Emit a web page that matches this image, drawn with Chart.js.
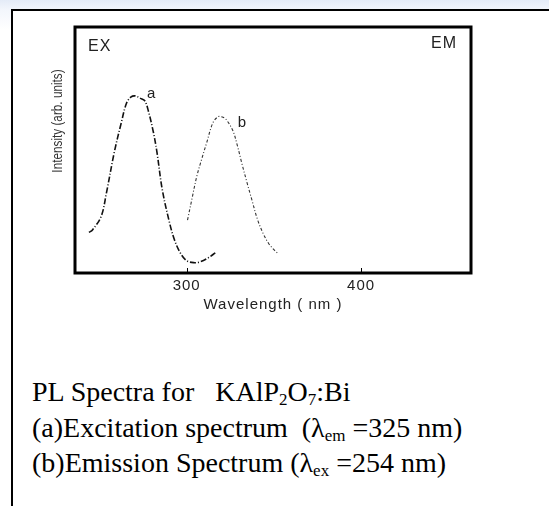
<!DOCTYPE html>
<html>
<head>
<meta charset="utf-8">
<script src="https://cdn.jsdelivr.net/npm/chart.js@4.4.0/dist/chart.umd.min.js"></script>
<style>
    html, body { margin: 0; padding: 0; }
    body {
        width: 549px; height: 506px; position: relative; overflow: hidden;
        background: linear-gradient(to bottom, #e4ebf7 0px, #f3f6fc 10px, #ffffff 30px);
    }
    #frame {
        position: absolute; left: 11px; top: 9px; right: -5px; bottom: -5px;
        border-left: 2px solid #000; border-top: 2px solid #000; background: #fff;
    }
    #chartBox { position: absolute; left: 0; top: 0; width: 549px; height: 330px; }
    #caption {
        position: absolute; left: 32px; top: 374px;
        font-family: "Liberation Serif", "Times New Roman", serif;
        font-size: 28px; line-height: 35.5px; color: #000; white-space: pre;
    }
    #caption sub { font-size: 17px; vertical-align: -4px; line-height: 1; }
</style>
</head>
<body>
<div id="frame"></div>
<div id="chartBox"><canvas id="plChart" width="549" height="330"></canvas></div>
<div id="caption">PL Spectra for   KAlP<sub>2</sub>O<sub>7</sub>:Bi
(a)Excitation spectrum  (λ<sub>em</sub> =325 nm)
(b)Emission Spectrum (λ<sub>ex</sub> =254 nm)</div>

<script>
// excitation spectrum (a)
const excWavelength = [244, 246, 251, 254, 258.5, 262.5, 265.5, 268, 270.5, 273.5, 276, 278, 281, 283, 286, 290, 293, 296.5, 300, 304, 307.5, 312, 317];
const excIntensity = [16.5, 17.5, 23, 32.5, 49, 61, 69, 71.5, 72, 71, 70, 66, 57, 49, 34, 21, 13.5, 8, 5, 4.2, 4.5, 6, 8.5];

// emission spectrum (b)
const emWavelength = [300.5, 303, 305.7, 308.5, 311.5, 315, 318, 320, 322.5, 326.4, 329, 331.6, 334.5, 337.4, 340.5, 343.7, 347, 350, 352.3];
const emIntensity = [21.5, 30, 39, 46, 53, 61, 63.5, 63.5, 62.5, 58, 52, 44.7, 37, 29.7, 22, 16.3, 12, 9.5, 8];

const xTicks = [300, 400];
const curveLabels = [
    { text: "a", x: 280, y: 73 },
    { text: "b", x: 332, y: 61 },
];
const cornerLabels = ["EX", "EM"];
const xTitle = "Wavelength ( nm )";
const yTitle = "Intensity (arb. units)";

const sansFont = "'Liberation Sans', Arial, sans-serif";

function toPoints(xs, ys) {
    return xs.map(function (x, i) {
        return { x: x, y: ys[i] };
    });
}

// the scanned figure uses a wide, loosely spaced sans font
const spacingPlugin = {
    id: "spacing",
    beforeDraw: function (chart) {
        chart.ctx.letterSpacing = "1px";
    },
    afterDraw: function (chart) {
        chart.ctx.letterSpacing = "0px";
    },
};

const framePlugin = {
    id: "frame",
    afterDatasetsDraw: function (chart) {
        const ctx = chart.ctx;
        const area = chart.chartArea;
        const xScale = chart.scales.x;
        const yScale = chart.scales.y;
        ctx.save();

        // inner tick marks
        ctx.strokeStyle = "#000";
        ctx.lineWidth = 1;
        xTicks.forEach(function (v) {
            const px = Math.round(xScale.getPixelForValue(v)) + 0.5;
            ctx.beginPath();
            ctx.moveTo(px, area.bottom);
            ctx.lineTo(px, area.bottom - 5);
            ctx.stroke();
        });

        // plot box
        ctx.lineWidth = 3;
        ctx.strokeRect(area.left, area.top, area.right - area.left, area.bottom - area.top);

        // labels
        ctx.fillStyle = "#222";
        ctx.font = "16px " + sansFont;
        ctx.textBaseline = "top";
        ctx.textAlign = "left";
        ctx.fillText(cornerLabels[0], area.left + 13, area.top + 12);
        ctx.textAlign = "right";
        ctx.fillText(cornerLabels[1], area.right - 14, area.top + 9);

        ctx.font = "15px " + sansFont;
        ctx.textAlign = "center";
        ctx.textBaseline = "middle";
        curveLabels.forEach(function (l) {
            ctx.fillText(l.text, xScale.getPixelForValue(l.x), yScale.getPixelForValue(l.y));
        });

        // y title, condensed like the original
        ctx.letterSpacing = "0px";
        ctx.translate(58, 121);
        ctx.rotate(-Math.PI / 2);
        ctx.scale(0.84, 1);
        ctx.font = "14px " + sansFont;
        ctx.fillStyle = "#333";
        ctx.fillText(yTitle, 0, 0);
        ctx.restore();
    },
};

const ctx = document.getElementById("plChart").getContext("2d");
new Chart(ctx, {
    type: "line",
    data: {
        datasets: [
            {
                label: "(a) Excitation",
                data: toPoints(excWavelength, excIntensity),
                borderColor: "#111",
                borderWidth: 1.6,
                borderDash: [6, 2, 1, 2],
                tension: 0.35,
                pointRadius: 0,
                fill: false,
            },
            {
                label: "(b) Emission",
                data: toPoints(emWavelength, emIntensity),
                borderColor: "#333",
                borderWidth: 1.1,
                borderDash: [3, 2, 1, 2],
                tension: 0.35,
                pointRadius: 0,
                fill: false,
            },
        ],
    },
    options: {
        responsive: false,
        animation: false,
        events: [],
        layout: { padding: { left: 45, right: 78, top: 27, bottom: 12 } },
        plugins: {
            legend: { display: false },
            tooltip: { enabled: false },
        },
        scales: {
            x: {
                type: "linear",
                min: 236,
                max: 463,
                afterBuildTicks: function (scale) {
                    scale.ticks = xTicks.map(function (v) { return { value: v }; });
                },
                afterFit: function (scale) { scale.height = 45; },
                grid: { display: false, drawTicks: false },
                border: { display: false },
                ticks: {
                    padding: 4,
                    color: "#222",
                    font: { family: sansFont, size: 15 },
                },
                title: {
                    display: true,
                    text: xTitle,
                    color: "#222",
                    padding: { top: 0, bottom: 4 },
                    font: { family: sansFont, size: 15 },
                },
            },
            y: {
                type: "linear",
                min: 0,
                max: 100,
                afterFit: function (scale) { scale.width = 30; },
                grid: { display: false, drawTicks: false },
                border: { display: false },
                ticks: { display: false },
            },
        },
    },
    plugins: [spacingPlugin, framePlugin],
});
</script>
</body>
</html>
